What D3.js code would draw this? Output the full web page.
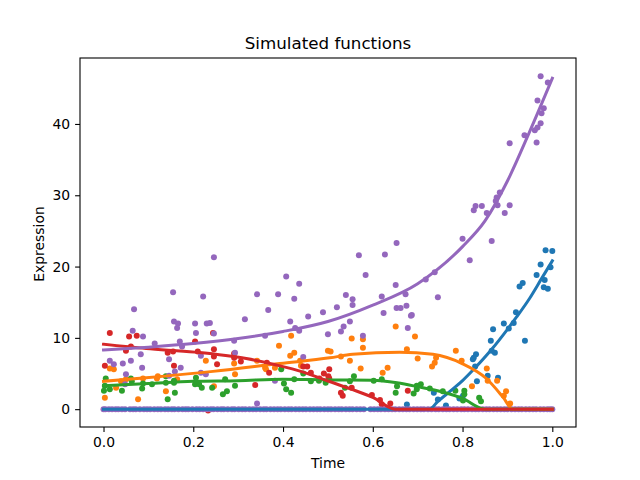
<!DOCTYPE html>
<html>
<head>
<meta charset="utf-8">
<script src="https://cdn.jsdelivr.net/npm/d3@7"></script>
<style>
  html, body { margin: 0; padding: 0; background: #fff; }
  text { font-family: "DejaVu Sans", sans-serif; fill: #000; }
</style>
</head>
<body>
<div id="chart"></div>
<script>
// Values, [time, expression]
var bluePoints = [[.676,.65],[.745,1.35],[.763,.5],[.736,2.3],[.793,1.5],[.801,1.9],[.856,4.7],[.879,4.4],[.832,3.9],[.823,7.0],[.825,7.2],[.83,7.7],[.828,6.0],[.872,7.9],[.865,8.2],[.863,9.6],[.868,11.2],[.892,12.0],[.903,11.3],[.914,12.1],[.919,13.6],[.939,9.6],[.927,17.2],[.934,17.7],[.965,18.8],[.974,20.3],[.985,22.3],[1.0,22.2],[.996,19.9],[.983,18.1],[.981,17.1],[.99,16.9]];
var orangePoints = [[.003,1.6],[.014,5.7],[.023,5.6],[.028,3.0],[.039,3.9],[.05,4.2],[.077,1.4],[.088,4.3],[.119,4.3],[.121,4.6],[.139,2.5],[.164,4.2],[.228,6.8],[.246,3.2],[.291,6.4],[.293,4.9],[.342,6.8],[.36,5.8],[.362,5.6],[.382,5.8],[.391,8.9],[.416,7.5],[.425,7.9],[.418,10.3],[.438,6.8],[.44,6.1],[.5,8.2],[.506,8.1],[.529,7.4],[.549,6.8],[.553,9.9],[.578,9.8],[.578,8.6],[.573,5.7],[.622,5.1],[.633,5.8],[.651,11.6],[.694,10.2],[.676,8.4],[.7,7.1],[.732,6.0],[.738,6.5],[.741,7.2],[.785,8.2],[.798,6.8],[.821,3.2],[.854,5.7],[.856,4.0],[.877,4.0],[.897,2.5],[.892,1.9],[.906,.8]];
var greenPoints = [[.001,2.6],[.003,3.3],[.005,4.3],[.014,2.8],[.041,2.6],[.061,4.3],[.063,3.9],[.086,2.9],[.088,3.6],[.108,3.5],[.139,3.7],[.139,4.6],[.157,4.0],[.157,3.7],[.143,1.4],[.159,2.3],[.206,4.4],[.204,3.5],[.213,3.5],[.219,3.0],[.242,3.0],[.271,4.2],[.266,2.1],[.275,2.5],[.293,3.3],[.396,5.6],[.402,3.6],[.407,2.8],[.418,2.3],[.425,4.2],[.445,5.0],[.462,3.9],[.48,4.0],[.495,3.7],[.538,3.0],[.549,3.9],[.558,4.6],[.602,4.0],[.62,4.2],[.654,3.2],[.651,2.3],[.698,3.3],[.707,3.5],[.698,2.8],[.691,2.2],[.727,2.9],[.756,2.5],[.784,2.6],[.804,2.6],[.804,2.1],[.801,1.2],[.837,1.6],[.841,1.1]];
var redPoints = [[.003,6.1],[.014,10.7],[.057,10.2],[.074,10.3],[.05,8.2],[.061,8.8],[.143,7.9],[.155,8.1],[.157,6.1],[.204,9.5],[.233,-.2],[.244,10.7],[.21,8.1],[.246,8.4],[.246,7.4],[.253,6.3],[.291,7.8],[.291,7.2],[.306,6.7],[.338,3.4],[.364,6.5],[.369,5.1],[.445,6.0],[.454,6.0],[.462,5.1],[.491,5.0],[.503,5.6],[.503,4.3],[.501,4.6],[.481,4.3],[.553,3.0],[.529,2.3],[.533,1.9],[.598,2.0],[.616,1.3],[.62,.7],[.639,.8],[.678,2.6]];
var purplePoints = [[.068,14.0],[.014,6.8],[.023,6.3],[.043,6.4],[.061,6.8],[.065,11.0],[.088,10.2],[.083,7.7],[.086,5.8],[.05,4.9],[.048,3.5],[.146,7.0],[.146,4.7],[.159,5.3],[.172,5.8],[.157,12.3],[.166,12.0],[.164,11.4],[.17,9.5],[.175,8.8],[.114,9.2],[.204,12.0],[.206,10.7],[.217,7.5],[.217,5.1],[.228,4.9],[.23,12.0],[.237,12.1],[.246,10.6],[.291,9.6],[.293,7.9],[.315,12.6],[.36,10.3],[.342,.8],[.382,4.0],[.416,12.3],[.427,11.4],[.436,11.0],[.456,13.0],[.489,13.6],[.5,10.5],[.445,7.3],[.246,21.3],[.155,16.4],[.222,15.8],[.407,18.6],[.436,17.6],[.342,16.1],[.389,16.1],[.425,15.5],[.367,13.9],[.974,46.7],[.99,45.8],[.967,43.3],[.981,42.2],[.976,41.5],[.974,40.1],[.967,39.5],[.961,39.1],[.965,37.4],[.938,38.4],[.905,37.3],[.883,30.4],[.876,29.7],[.874,29.2],[.878,28.6],[.905,28.6],[.894,27.5],[.854,27.5],[.843,28.5],[.829,28.5],[.825,27.9],[.865,23.6],[.8,23.9],[.816,20.9],[.738,19.2],[.718,18.2],[.673,16.1],[.651,17.4],[.653,23.3],[.627,21.7],[.569,21.6],[.584,18.8],[.54,16.0],[.555,15.4],[.555,14.6],[.52,14.3],[.62,15.8],[.745,15.7],[.675,14.5],[.653,14.2],[.662,14.2],[.624,13.5],[.687,13.2],[.549,12.3],[.535,11.6],[.529,10.9],[.578,10.3],[.678,11.4],[.685,13.1]];

// Times where the simulated values sit at zero
var zeroTimes = [0,.004,.012,.019,.027,.033,.041,.048,.059,.066,.072,.081,.09,.097,.104,.113,.121,.128,.137,.144,.152,.158,.167,.176,.183,.189,.198,.207,.214,.222,.231,.239,.245,.254,.262,.268,.277,.286,.292,.301,.309,.316,.325,.333,.34,.349,.357,.363,.372,.38,.388,.395,.404,.412,.419,.428,.436,.444,.451,.46,.468,.476,.483,.492,.5,.507,.516,.524,.531,.54,.548,.555,.564,.572,.58,.595,.603,.611,.618,.627,.635,.643,.65,.659,.667,.675,.682,.691,.699,.707,.714,.723,.731,.74,.747,.756,.764,.771,.78,.788,.797,.804,.812,.821,.829,.836,.845,.853,.86,.869,.877,.885,.893,.9,.909,.917,.925,.932,.941,.949,.957,.964,.973,.981,.989,.995,1];

// Fitted curves
var blueCurve = [[0,0],[.726,0],[.745,1.1],[.778,2.8],[.8,4.0],[.825,5.6],[.865,8.4],[.9,11.2],[.92,12.9],[.95,15.6],[.975,18.2],[1,20.8]];
var orangeCurve = [[0,3.9],[.095,4.4],[.244,5.3],[.393,6.4],[.504,7.2],[.555,7.7],[.66,8.0],[.734,7.7],[.799,6.4],[.853,4.3],[.89,1.7],[.912,0],[1,0]];
var greenCurve = [[0,3.3],[.1,3.6],[.2,3.9],[.3,4.0],[.4,4.2],[.5,4.1],[.6,4.05],[.654,3.7],[.704,3.1],[.756,2.4],[.8,1.5],[.85,0],[1,0]];
var redCurve = [[0,9.1],[.095,8.5],[.203,8.0],[.318,7.1],[.385,6.2],[.445,5.2],[.5,3.95],[.55,2.85],[.6,1.65],[.65,0],[1,0]];
var purpleCurve = [[0,8.3],[.1,8.7],[.2,9.2],[.3,9.9],[.4,10.9],[.5,12.3],[.6,14.6],[.7,17.6],[.8,22.8],[.85,26.4],[.9,32],[.95,39],[1,46.4]];

var xTicks = [0, 0.2, 0.4, 0.6, 0.8, 1.0];
var yTicks = [0, 10, 20, 30, 40];

var width = 640, height = 480;
var margin = { top: 58, right: 64, bottom: 53, left: 80 };

var svg = d3.select("#chart").append("svg")
    .attr("width", width)
    .attr("height", height)
    .style("display", "block");

var x = d3.scaleLinear().domain([-0.0524, 1.0528]).range([margin.left, width - margin.right]);
var y = d3.scaleLinear().domain([-2.5, 49.25]).range([height - margin.bottom, margin.top]);

var series = [
    { color: "#1f77b4", points: bluePoints, curve: blueCurve },
    { color: "#ff7f0e", points: orangePoints, curve: orangeCurve },
    { color: "#2ca02c", points: greenPoints, curve: greenCurve },
    { color: "#d62728", points: redPoints, curve: redCurve },
    { color: "#9467bd", points: purplePoints, curve: purpleCurve }
];

// Dots first, the zero band in purple on top of them
series.forEach(function(s) {
    svg.append("g").selectAll("circle")
        .data(s.points)
        .enter().append("circle")
        .attr("cx", d => x(d[0]))
        .attr("cy", d => y(d[1]))
        .attr("r", 3)
        .attr("fill", s.color);
});
svg.append("g").selectAll("circle")
    .data(zeroTimes)
    .enter().append("circle")
    .attr("cx", d => x(d))
    .attr("cy", y(0))
    .attr("r", 3)
    .attr("fill", "#9467bd");

// Curves over the dots
var line = d3.line()
    .x(d => x(d[0]))
    .y(d => y(d[1]))
    .curve(d3.curveMonotoneX);

series.forEach(function(s) {
    svg.append("path")
        .attr("d", line(s.curve))
        .attr("fill", "none")
        .attr("stroke", s.color)
        .attr("stroke-width", 3)
        .attr("stroke-linecap", "square");
});

// Axes
var xAxis = svg.append("g")
    .attr("transform", `translate(0,${height - margin.bottom})`)
    .call(d3.axisBottom(x).tickValues(xTicks).tickFormat(d3.format(".1f")).tickSize(4.9).tickPadding(4.9));

var yAxis = svg.append("g")
    .attr("transform", `translate(${margin.left},0)`)
    .call(d3.axisLeft(y).tickValues(yTicks).tickSize(4.9).tickPadding(4.9));

[xAxis, yAxis].forEach(function(a) {
    a.selectAll("text").style("font-size", "13.9px").style("font-family", '"DejaVu Sans", sans-serif');
    a.selectAll("line").attr("stroke", "#000").attr("stroke-width", 1.1);
    a.select(".domain").remove();
});

// Frame
svg.append("rect")
    .attr("x", margin.left)
    .attr("y", margin.top)
    .attr("width", width - margin.left - margin.right)
    .attr("height", height - margin.top - margin.bottom)
    .attr("fill", "none")
    .attr("stroke", "#000")
    .attr("stroke-width", 1.1);

// Labels
svg.append("text")
    .attr("x", (margin.left + width - margin.right) / 2)
    .attr("y", 49)
    .attr("text-anchor", "middle")
    .style("font-size", "16.7px")
    .text("Simulated functions");

svg.append("text")
    .attr("x", (margin.left + width - margin.right) / 2)
    .attr("y", 468)
    .attr("text-anchor", "middle")
    .style("font-size", "13.9px")
    .text("Time");

svg.append("text")
    .attr("transform", "translate(44,244) rotate(-90)")
    .attr("text-anchor", "middle")
    .style("font-size", "13.9px")
    .text("Expression");
</script>
</body>
</html>
